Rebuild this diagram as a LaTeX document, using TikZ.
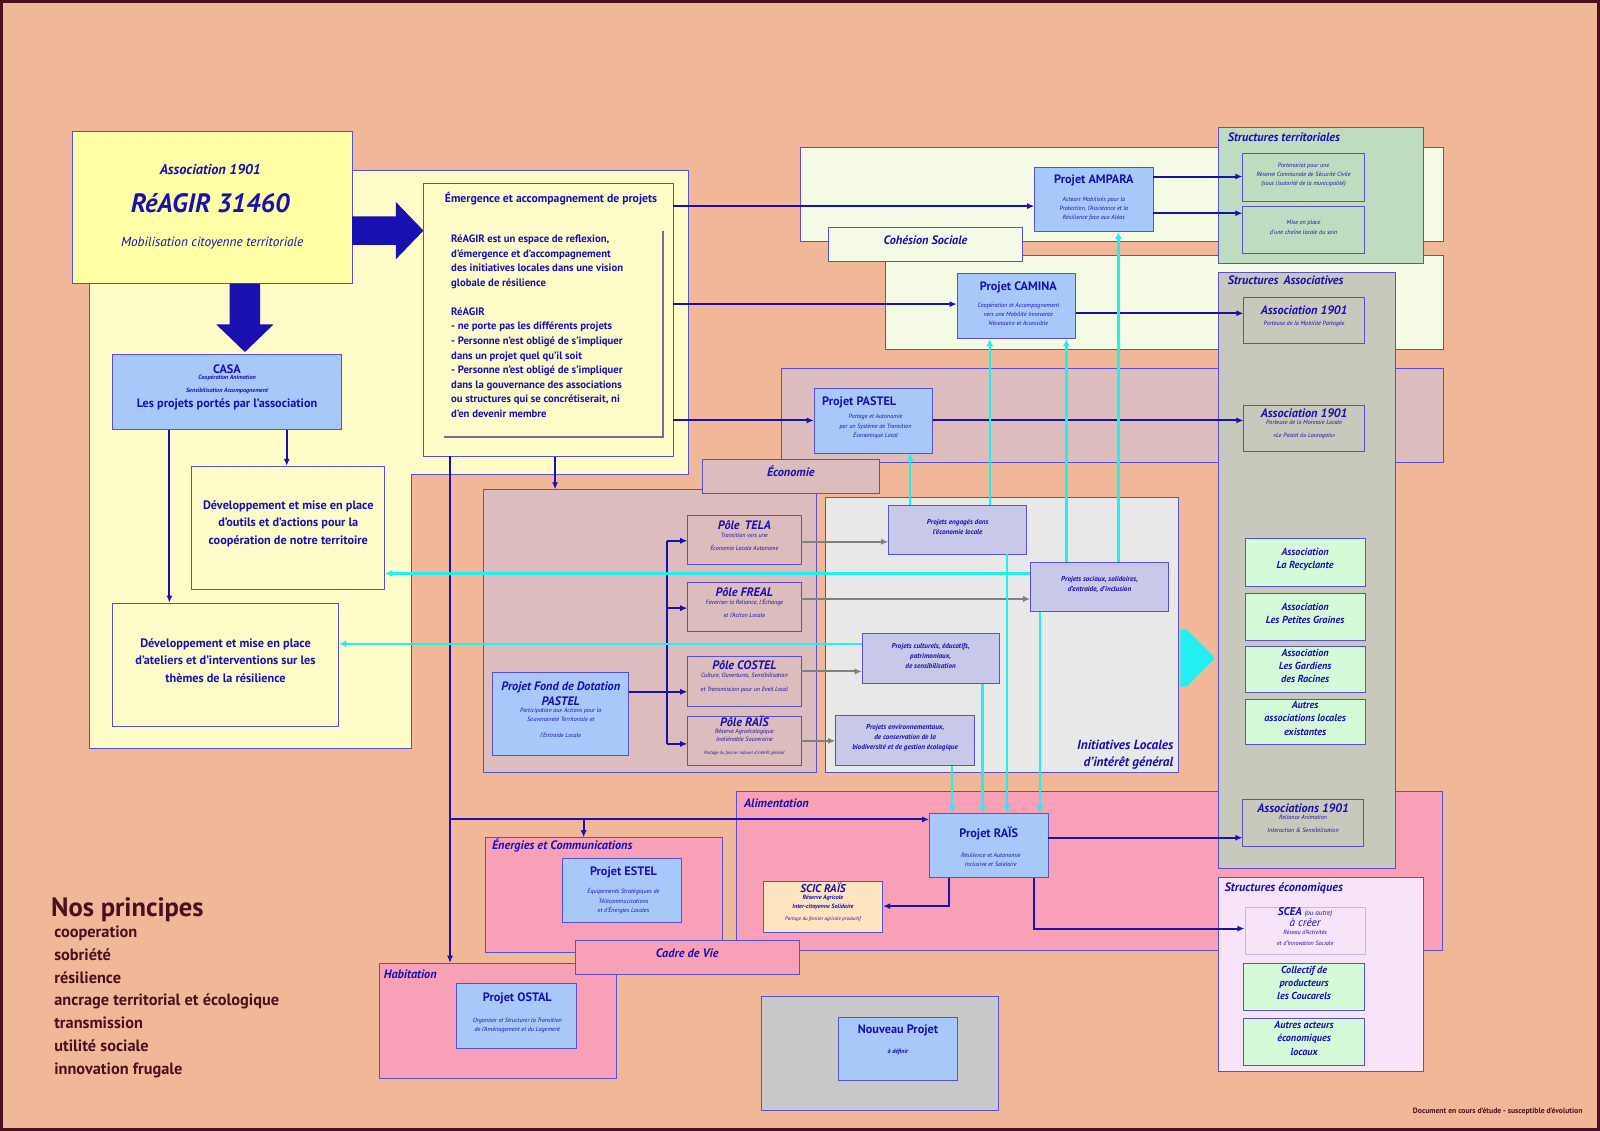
\documentclass[tikz,border=0pt]{standalone}
\usepackage{fontspec}
\setmainfont{PT Sans}
\usetikzlibrary{fit,arrows.meta,shapes.arrows}
\definecolor{bg}{HTML}{F0B898}
\definecolor{tc}{HTML}{1A10B0}
\definecolor{bd}{HTML}{5A50D0}
\definecolor{nb}{HTML}{A8C8FA}
\definecolor{ylw}{HTML}{FFFFA8}
\definecolor{ylr}{HTML}{FDFBC8}
\definecolor{eco}{HTML}{DCBCBC}
\definecolor{ini}{HTML}{E8E8E8}
\definecolor{coh}{HTML}{F4FAE4}
\definecolor{ter}{HTML}{BEDCC0}
\definecolor{aso}{HTML}{C8C8BC}
\definecolor{pnk}{HTML}{F8A0B8}
\definecolor{scic}{HTML}{FFE4C0}
\definecolor{sec}{HTML}{F8E4F8}
\definecolor{grn}{HTML}{D4FAD8}
\definecolor{nvp}{HTML}{C8C8C8}
\definecolor{ipr}{HTML}{C8C8E8}
\definecolor{cy}{HTML}{20F0F0}
\definecolor{gr}{HTML}{808080}
\definecolor{mar}{HTML}{4A1020}
\newcommand\fs[2]{\fontsize{#1}{#2}\selectfont}
\tikzset{
 bx/.style={draw=bd,line width=0.8pt,inner sep=0pt,text=tc,align=center,font=\bfseries\itshape},
 ar/.style={draw=tc,line width=2pt,-{Latex[length=7pt,width=6pt]}},
 ln/.style={draw=tc,line width=2pt},
 ca/.style={draw=cy,line width=2.5pt,-{Latex[length=7pt,width=7pt]}},
 cl/.style={draw=cy,line width=2.5pt},
 ga/.style={draw=gr,line width=2pt,-{Latex[length=7pt,width=6pt]}},
 lab/.style={text=tc,font=\bfseries\itshape\fs{12}{13},inner sep=0pt},
}
\begin{document}
\begin{tikzpicture}[x=1pt,y=-1pt]
\fill[mar] (0,0) rectangle (1568,1108);
\fill[bg] (3,3) rectangle (1565,1105);
\useasboundingbox (0,0) rectangle (1568,1108);
% big yellow region
\draw[bd,line width=0.8pt,fill=ylr] (345,167) -- (675,167) -- (675,465) -- (403,465) -- (403,733) -- (88,733) -- (88,278) -- (345,278) -- cycle;
% regions
\node[bx,fill=coh,fit={(784,144) (1415,237)}] (rcoh1) {};
\node[bx,fill=coh,fit={(868,250) (1415,342)}] (rcoh2) {};
\node[bx,fill=eco,fit={(766,361) (1415,453)}] (reco1) {};
\node[bx,fill=eco,fit={(474,480) (800,757)}] (reco2) {};
\node[bx,fill=ini,fit={(809,487) (1155,757)}] (rini) {};
\node[bx,fill=pnk,fit={(722,776) (1414,931)}] (rali) {};
\node[bx,fill=ter,fit={(1194,125) (1395,258)}] (rter) {};
\node[bx,fill=aso,fit={(1194,267) (1367,851)}] (raso) {};
\node[bx,fill=sec,fit={(1194,860) (1395,1050)}] (rsec) {};
\node[bx,fill=pnk,fit={(476,821) (708,933)}] (rene) {};
\node[bx,fill=pnk,fit={(372,944) (604,1057)}] (rhab) {};
\node[bx,fill=pnk,fit={(564,922) (783,955)},font=\bfseries\itshape\fs{12}{13}] (cadre) {Cadre de Vie};
\node[bx,fill=nvp,fit={(746,976) (978,1088)}] (rnvp) {};
\node[bx,fill=coh,fit={(812,223) (1002,256)},font=\bfseries\itshape\fs{12}{13}] (cohl) {Cohésion Sociale};
\node[bx,fill=eco,fit={(688,450) (862,484)},font=\bfseries\itshape\fs{12}{13}] (ecol) {Économie};
% region labels
\node[lab,anchor=west] (lter) at (1203,134) {Structures territoriales};
\node[lab,anchor=west] (laso) at (1203,275) {Structures\, Associatives};
\node[lab,anchor=west] (lsec) at (1200,871) {Structures économiques};
\node[lab,anchor=west] (lali) at (729,787) {Alimentation};
\node[lab,anchor=west] (lene) at (482,829) {Énergies et Communications};
\node[lab,anchor=west] (lhab) at (376,955) {Habitation};
\node[lab,anchor=south east,align=right,font=\bfseries\itshape\fs{13}{17}] (lini) at (1150,754) {Initiatives Locales\\d'intérêt général};
% title
\node[bx,fill=ylw,fit={(71,129) (345,278)}] (title) {};
\node[text=tc,font=\bfseries\itshape\fs{14}{15}] (t1) at (206,166) {Association 1901};
\node[text=tc,font=\bfseries\itshape\fs{26}{28}] (t2) at (206,199) {RéAGIR 31460};
\node[text=tc,font=\itshape\fs{13}{14}] (t3) at (208,238) {Mobilisation citoyenne territoriale};
\fill[tc] (345,212) -- (388,212) -- (388,198) -- (415,226) -- (388,254) -- (388,240) -- (345,240) -- cycle;
\fill[tc] (225,278) -- (255,278) -- (255,318) -- (268,318) -- (240,345) -- (212,318) -- (225,318) -- cycle;
% CASA etc
\node[bx,fill=nb,fit={(110,347) (335,421)},font=\bfseries\fs{12}{13}] (casa) {CASA\\[-1pt]{\itshape\fs{6}{7}Coopération Animation\\Sensibilisation Accompagnement}\\[2pt]Les projets portés par l'association};
\node[bx,fill=ylr,fit={(188,457) (377,578)},font=\bfseries\fs{12}{17}] (dev1) {Développement et mise en place\\d'outils et d'actions pour la\\coopération de notre territoire};
\node[bx,fill=ylr,fit={(110,591) (332,712)},font=\bfseries\fs{12}{17}] (dev2) {Développement et mise en place\\d'ateliers et d'interventions sur les\\thèmes de la résilience};
\node[bx,fill=ylr,fit={(415,180) (660,447)}] (emer) {};
\node[text=tc,font=\bfseries\fs{11.5}{13}] (emt) at (540,195) {Émergence et accompagnement de projets};
\draw[gray!70!bd,line width=2pt] (650,226) -- (650,428) -- (435,428);
\node[text=tc,font=\bfseries\fs{10.5}{14.3},align=left,anchor=north west,inner sep=0pt] (emx) at (442,230) {RéAGIR est un espace de reflexion,\\d'émergence et d'accompagnement\\des initiatives locales dans une vision\\globale de résilience\\[14pt]RéAGIR\\- ne porte pas les différents projets\\- Personne n'est obligé de s'impliquer\\dans un projet quel qu'il soit\\- Personne n'est obligé de s'impliquer\\dans la gouvernance des associations\\ou structures qui se concrétiserait, ni\\d'en devenir membre};
% projects
\node[bx,fill=nb,fit={(1014,164) (1130,227)}] (ampara) {};
\node[text=tc,font=\bfseries\fs{12}{13}] (ampt) at (1072,177) {Projet AMPARA};
\node[text=tc,font=\itshape\fs{6}{9},align=center] (ampd) at (1072,205) {Acteurs Mobilisés pour la\\Protection, l'Assistance et la\\Résilience face aux Aléas};
\node[bx,fill=nb,fit={(938,268) (1054,332)}] (camina) {};
\node[text=tc,font=\bfseries\fs{12}{13}] (camt) at (998,282) {Projet CAMINA};
\node[text=tc,font=\itshape\fs{6}{9},align=center] (camd) at (998,308) {Coopération et Accompagnement\\vers une Mobilité Innovante\\Nécessaire et Accessible};
\node[bx,fill=nb,fit={(798,381) (914,444)}] (pastel) {};
\node[text=tc,font=\bfseries\fs{12}{13}] (past) at (842,394) {Projet PASTEL};
\node[text=tc,font=\itshape\fs{6}{9},align=center] (pasd) at (858,418) {Partage et Autonomie\\par un Système de Transition\\Économique Local};
\node[bx,font=\itshape\fs{6}{9},fit={(1218,150) (1337,197)}] (st1) {Partenariat pour une\\Réserve Communale de Sécurité Civile\\(sous l'autorité de la municipalité)};
\node[bx,font=\itshape\fs{6}{9},fit={(1218,202) (1337,248)}] (st2) {Mise en place\\d'une chaîne locale du soin};
\node[bx,font=\bfseries\itshape\fs{12}{13},fit={(1219,291) (1337,337)}] (as1) {Association 1901\\[-2pt]{\mdseries\fs{6}{8}Porteuse de la Mobilité Partagée}\\[8pt]};
\node[bx,font=\bfseries\itshape\fs{12}{13},fit={(1219,397) (1337,442)}] (as2) {Association 1901\\[-2pt]{\mdseries\fs{6}{9}Porteuse de la Monnaie Locale\\«Le Pastel du Lauragais»}};
\node[bx,fill=grn,font=\bfseries\itshape\fs{10}{13},fit={(1220,528) (1338,575)}] (g1) {Association\\La Recyclante};
\node[bx,fill=grn,font=\bfseries\itshape\fs{10}{13},fit={(1220,582) (1338,628)}] (g2) {Association\\Les Petites Graines};
\node[bx,fill=grn,font=\bfseries\itshape\fs{10}{13},fit={(1220,633) (1338,679)}] (g3) {Association\\Les Gardiens\\des Racines};
\node[bx,fill=grn,font=\bfseries\itshape\fs{10}{13},fit={(1220,685) (1338,730)}] (g4) {Autres\\associations locales\\existantes};
\node[bx,font=\bfseries\itshape\fs{12}{13},fit={(1218,783) (1336,829)}] (as3) {Associations 1901\\[-2pt]{\mdseries\fs{6}{9}Reliance Animation\\Interaction \& Sensibilisation}};
\node[bx,font=\bfseries\itshape\fs{11}{11},fit={(1220,889) (1338,935)},draw=bd!40] (scea) {SCEA {\mdseries\fs{7}{8}(ou autre)}\\{\mdseries à créer}\\{\mdseries\fs{6}{8}Réseau d'Activités\\et d'Innovation Sociale}};
\node[bx,fill=grn,font=\bfseries\itshape\fs{10}{13},fit={(1219,944) (1337,990)}] (coll) {Collectif de\\producteurs\\les Coucarels};
\node[bx,fill=grn,font=\bfseries\itshape\fs{10}{13},fit={(1219,998) (1337,1044)}] (autr) {Autres acteurs\\économiques\\locaux};
% RAIS
\node[bx,fill=nb,fit={(911,797) (1027,860)}] (rais) {};
\node[text=tc,font=\bfseries\fs{12}{13}] (rait) at (969,817) {Projet RAÏS};
\node[text=tc,font=\itshape\fs{6}{9},align=center] (raid) at (971,843) {Résilience et Autonomie\\Inclusive et Solidaire};
\node[bx,fill=scic,font=\bfseries\itshape\fs{11}{12},fit={(748,864) (865,914)}] (scic) {SCIC RAÏS\\[-1pt]{\fs{6}{8}Réserve Agricole\\Inter-citoyenne Solidaire\\{\mdseries\fs{5}{6}Portage du foncier agricole productif}}};
\node[bx,fill=nb,fit={(551,841) (668,904)}] (estel) {};
\node[text=tc,font=\bfseries\fs{12}{13}] (estt) at (611,855) {Projet ESTEL};
\node[text=tc,font=\itshape\fs{6}{9},align=center] (estd) at (611,883) {Équipements Stratégiques de\\Télécommucications\\et d'Énergies Locales};
\node[bx,fill=nb,fit={(447,964) (565,1027)}] (ostal) {};
\node[text=tc,font=\bfseries\fs{12}{13}] (ostt) at (507,978) {Projet OSTAL};
\node[text=tc,font=\itshape\fs{6}{9},align=center] (ostd) at (507,1005) {Organiser et Structurer la Transition\\de l'Aménagement et du Logement};
\node[bx,fill=nb,fit={(822,997) (938,1059)}] (nouv) {};
\node[text=tc,font=\bfseries\fs{12}{13}] (nout) at (880,1010) {Nouveau Projet};
\node[text=tc,font=\bfseries\itshape\fs{6}{8}] (noud) at (880,1031) {à définir};
% poles
\node[bx,fill=eco,font=\bfseries\itshape\fs{12}{13},fit={(674,505) (785,553)}] (tela) {Pôle\, TELA\\[-1pt]{\mdseries\fs{6}{9}Transition vers une\\Économie Locale Autonome}};
\node[bx,fill=eco,font=\bfseries\itshape\fs{12}{13},fit={(674,571) (785,619)}] (freal) {Pôle FREAL\\[-1pt]{\mdseries\fs{6}{9}Favoriser la Reliance, l'Échange\\et l'Action Locale}};
\node[bx,fill=eco,font=\bfseries\itshape\fs{12}{13},fit={(674,643) (785,692)}] (costel) {Pôle COSTEL\\[-1pt]{\mdseries\fs{6}{9}Culture, Ouvertures, Sensibilisation\\et Transmission pour un Eveil Local}};
\node[bx,fill=eco,font=\bfseries\itshape\fs{12}{13},fit={(674,702) (785,750)}] (prais) {Pôle RAÏS\\[-1pt]{\mdseries\fs{6}{8}Réserve Agroécologique\\Inaliénable Souveraine\\{\fs{4.5}{6}Portage du foncier naturel d'intérêt général}}};
\node[bx,fill=nb,font=\bfseries\itshape\fs{12}{15},fit={(483,659) (616,740)}] (fond) {Projet Fond de Dotation\\PASTEL\\[-2pt]{\mdseries\fs{6}{9}Participation aux Actions pour la\\Souveraineté Territoriale et\\l'Entraide Locale}};
% initiatives
\node[bx,fill=ipr,font=\bfseries\itshape\fs{7}{10},fit={(871,495) (1006,543)}] (eng) {Projets engagés dans\\l'économie locale\\[6pt]};
\node[bx,fill=ipr,font=\bfseries\itshape\fs{7}{10},fit={(1010,551) (1145,599)}] (soc) {Projets sociaux, solidaires,\\d'entraide, d'inclusion};
\node[bx,fill=ipr,font=\bfseries\itshape\fs{7}{10},fit={(845,621) (979,670)}] (cul) {Projets culturels, éducatifs,\\patrimoniaux,\\de sensibilisation};
\node[bx,fill=ipr,font=\bfseries\itshape\fs{7}{10},fit={(819,701) (955,750)}] (env) {Projets environnementaux,\\de conservation de la\\biodiversité et de gestion écologique};
% cyan big arrow
\node[single arrow,fill=cy,minimum height=34pt,minimum width=56pt,single arrow head extend=0pt,inner sep=0pt,anchor=tip] (bigc) at (1191,645) {};
% dark connectors
\coordinate (e1) at (660,202); \coordinate (e2) at (660,298); \coordinate (e3) at (660,412);
\draw[ar] (e1) -- (e1 -| ampara.west);
\draw[ar] (e2) -- (e2 -| camina.west);
\draw[ar] (e3) -- (e3 -| pastel.west);
\draw[ar] (emer.south -| 544,0) -- (reco2.north -| 544,0);
\coordinate (v0) at (441,447); \coordinate (v1) at (441,803); \coordinate (v2) at (572,803);
\draw[ar] (v0) -- (rhab.north -| v0);
\draw[ar] (v1) -- (v1 -| rais.west);
\draw[ar] (v2) -- (rene.north -| v2);
\draw[ar] (casa.south -| 281,0) -- (dev1.north -| 281,0);
\draw[ar] (casa.south -| 166,0) -- (dev2.north -| 166,0);
\draw[ar] (ampara.east |- 0,173) -- (st1.west |- 0,173);
\draw[ar] (ampara.east |- 0,209) -- (st2.west |- 0,209);
\draw[ar] (camina.east |- 0,307) -- (as1.west |- 0,307);
\draw[ar] (pastel.east |- 0,412) -- (as2.west |- 0,412);
\draw[ar] (rais.east |- 0,821) -- (as3.west |- 0,821);
\draw[ar] (rais.south -| 930,0) |- (scic.east |- 0,888);
\draw[ar] (rais.south -| 1013,0) |- (scea.west |- 0,910);
\coordinate (fj) at (654,678);
\draw[ln] (fond.east |- fj) -- (fj);
\draw[ln] (654,530) -- (654,729);
\draw[ar] (654,530) -- (tela.west |- 0,530);
\draw[ar] (654,596) -- (freal.west |- 0,596);
\draw[ar] (fj) -- (costel.west |- fj);
\draw[ar] (654,729) -- (prais.west |- 0,729);
% grey
\draw[ga] (tela.east |- 0,531) -- (eng.west |- 0,531);
\draw[ga] (freal.east |- 0,587) -- (soc.west |- 0,587);
\draw[ga] (costel.east |- 0,658) -- (cul.west |- 0,658);
\draw[ga] (prais.east |- 0,726) -- (env.west |- 0,726);
% cyan
\draw[ca] (eng.north -| 892,0) -- (pastel.south -| 892,0);
\draw[ca] (eng.north -| 970,0) -- (camina.south -| 970,0);
\draw[ca] (soc.north -| 1045,0) -- (camina.south -| 1045,0);
\draw[ca] (soc.north -| 1096,0) -- (ampara.south -| 1096,0);
\draw[ca] (eng.south -| 987,0) -- (rais.north -| 987,0);
\draw[ca] (soc.south -| 1019,0) -- (rais.north -| 1019,0);
\draw[ca] (cul.south -| 963,0) -- (rais.north -| 963,0);
\draw[ca] (env.south -| 933,0) -- (rais.north -| 933,0);
\draw[ca] (soc.west |- 0,562) -- (dev1.east |- 0,562);
\draw[ca] (cul.west |- 0,631) -- (dev2.east |- 0,631);
% principles
\node[anchor=west,text=mar,font=\bfseries\fs{26}{28},inner sep=0pt] (np) at (50,892) {Nos principes};
\node[anchor=north west,align=left,text=mar,font=\bfseries\fs{16}{22.4},inner sep=0pt] (npl) at (53,907) {cooperation\\sobriété\\résilience\\ancrage territorial et écologique\\transmission\\utilité sociale\\innovation frugale};
\node[anchor=east,text=mar,font=\bfseries\fs{7.5}{8},inner sep=0pt] (doc) at (1551,1089) {Document en cours d'étude - susceptible d'évolution};
\end{tikzpicture}
\end{document}
